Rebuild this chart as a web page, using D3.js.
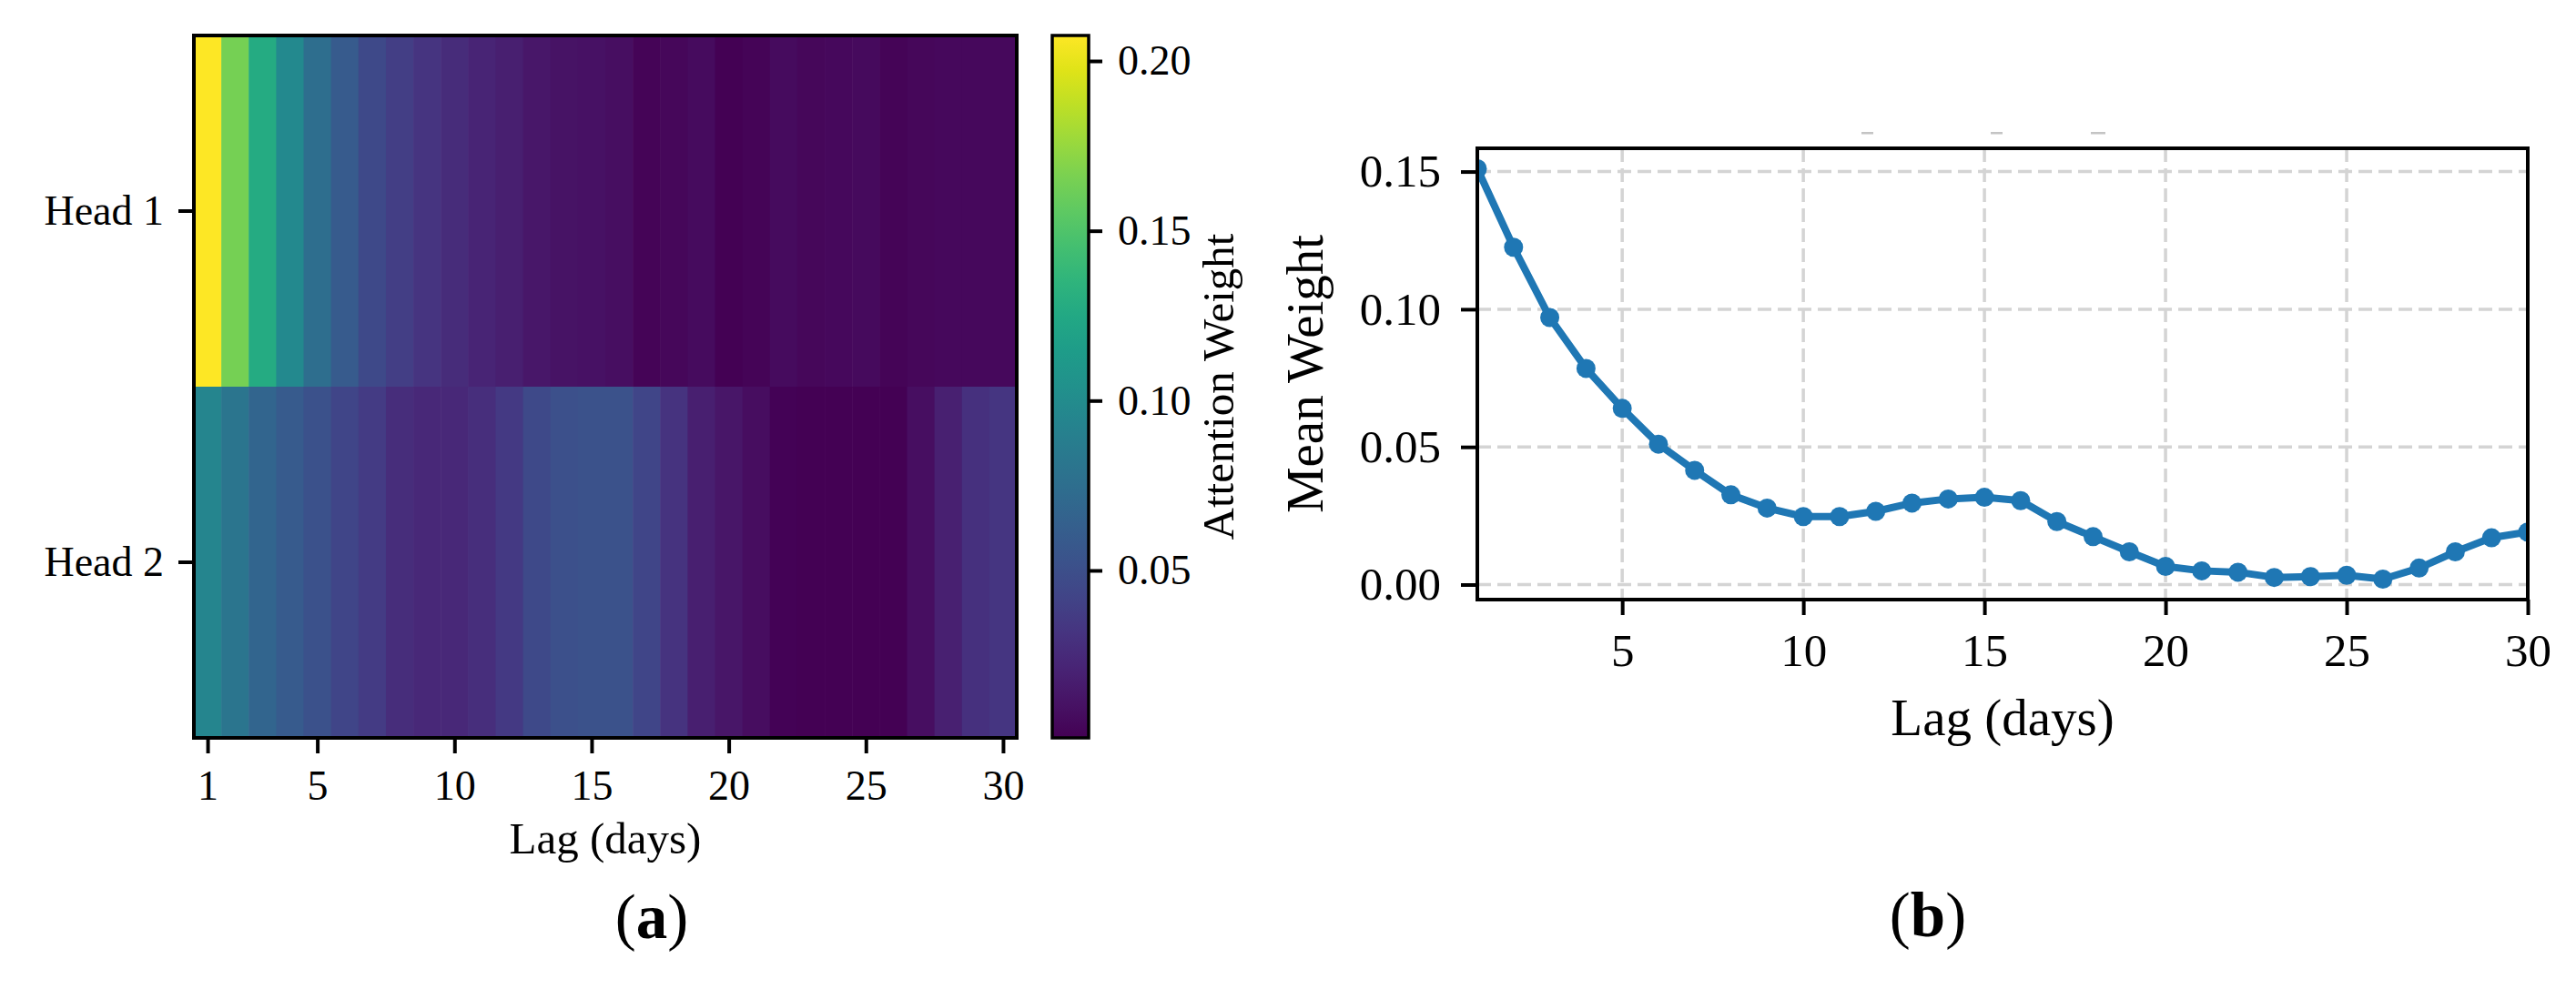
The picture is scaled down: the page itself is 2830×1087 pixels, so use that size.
<!DOCTYPE html>
<html>
<head>
<meta charset="utf-8">
<script src="https://cdn.jsdelivr.net/npm/d3@7"></script>
<style>
  html, body { margin: 0; padding: 0; background: #fff; }
  svg { display: block; font-family: "Liberation Serif", "Times New Roman", serif; }
</style>
</head>
<body>
<svg id="chart" width="2830" height="1087"></svg>
<script>
/* Lag attention: (a) heatmap per head, (b) mean weight per lag */

const LAGS = d3.range(1, 31);
const HEADS = ['Head 1', 'Head 2'];

const HEAD1 = [0.2075, 0.164, 0.127, 0.098, 0.075, 0.059, 0.046, 0.038, 0.032, 0.026,
  0.021, 0.018, 0.013, 0.011, 0.010, 0.008, 0.003, 0.004, 0.007, 0.001,
  0.003, 0.007, 0.004, 0.005, 0.006, 0.003, 0.004, 0.005, 0.005, 0.005];
const HEAD2 = [0.095, 0.081, 0.067, 0.059, 0.052, 0.043, 0.037, 0.027, 0.024, 0.024,
  0.028, 0.035, 0.046, 0.051, 0.053, 0.053, 0.043, 0.031, 0.018, 0.0125,
  0.0075, 0.0022, 0.0014, 0.0012, 0.0011, 0.0010, 0.0082, 0.019, 0.029, 0.033];

const MEAN_WEIGHT = [0.151, 0.1225, 0.097, 0.0785, 0.064, 0.051, 0.0415, 0.0326, 0.0278, 0.0247,
  0.0247, 0.0266, 0.0296, 0.0311, 0.0317, 0.0305, 0.0229, 0.0174, 0.0119, 0.0066,
  0.0050, 0.0045, 0.0026, 0.0029, 0.0034, 0.0020, 0.0060, 0.0119, 0.0170, 0.0191];

const HEAT_XTICKS = [1, 5, 10, 15, 20, 25, 30];
const CBAR_TICKS = [0.05, 0.10, 0.15, 0.20];
const LINE_XTICKS = [5, 10, 15, 20, 25, 30];
const LINE_YTICKS = [0.00, 0.05, 0.10, 0.15];

const svg = d3.select('#chart');

// ============================================================
// (a) heatmap
// ============================================================

function drawHeatmap() {
  const box = { left: 213, right: 1117, top: 39, bottom: 811 };
  const x = d3.scaleLinear().domain([0.5, 30.5]).range([box.left, box.right]);
  const y = d3.scaleBand().domain(HEADS).range([box.top, box.bottom]);
  const vmin = d3.min(HEAD1.concat(HEAD2)) - 0.0003;
  const vmax = d3.max(HEAD1.concat(HEAD2));
  const color = d3.scaleSequential(d3.interpolateViridis).domain([vmin, vmax]);

  const cells = [];
  [HEAD1, HEAD2].forEach((row, i) => {
    row.forEach((v, j) => cells.push({ head: HEADS[i], lag: LAGS[j], v }));
  });

  const g = svg.append('g');
  g.selectAll('rect.cell')
    .data(cells)
    .join('rect')
    .attr('class', 'cell')
    .attr('x', d => x(d.lag - 0.5))
    .attr('y', d => y(d.head))
    .attr('width', x(1.5) - x(0.5) + 0.6)
    .attr('height', y.bandwidth() + 0.6)
    .attr('fill', d => color(d.v));

  g.append('rect')
    .attr('x', box.left).attr('y', box.top)
    .attr('width', box.right - box.left).attr('height', box.bottom - box.top)
    .attr('fill', 'none').attr('stroke', '#000').attr('stroke-width', 4);

  // x axis
  const xa = g.append('g')
    .attr('transform', `translate(0,${box.bottom})`)
    .call(d3.axisBottom(x).tickValues(HEAT_XTICKS).tickSize(17).tickPadding(18).tickFormat(d3.format('d')));
  styleAxis(xa, 46);

  // y axis
  const ya = g.append('g')
    .attr('transform', `translate(${box.left},0)`)
    .call(d3.axisLeft(y).tickSize(17).tickPadding(16));
  styleAxis(ya, 46);

  g.append('text')
    .attr('x', (box.left + box.right) / 2).attr('y', 938)
    .attr('text-anchor', 'middle').attr('font-size', 49)
    .text('Lag (days)');

  // colorbar
  const cb = { left: 1156, right: 1196, top: 39, bottom: 811 };
  const cy = d3.scaleLinear().domain([vmin, vmax]).range([cb.bottom, cb.top]);
  const grad = svg.append('defs').append('linearGradient')
    .attr('id', 'viridis-grad')
    .attr('x1', 0).attr('y1', 1).attr('x2', 0).attr('y2', 0);
  grad.selectAll('stop')
    .data(d3.range(0, 1.0001, 0.05))
    .join('stop')
    .attr('offset', d => d)
    .attr('stop-color', d => d3.interpolateViridis(d));

  g.append('rect')
    .attr('x', cb.left).attr('y', cb.top)
    .attr('width', cb.right - cb.left).attr('height', cb.bottom - cb.top)
    .attr('fill', 'url(#viridis-grad)')
    .attr('stroke', '#000').attr('stroke-width', 3.5);

  const ca = g.append('g')
    .attr('transform', `translate(${cb.right},0)`)
    .call(d3.axisRight(cy).tickValues(CBAR_TICKS).tickSize(15).tickPadding(17).tickFormat(d3.format('.2f')));
  styleAxis(ca, 46);

  g.append('text')
    .attr('transform', `translate(1355,${(cb.top + cb.bottom) / 2}) rotate(-90)`)
    .attr('text-anchor', 'middle').attr('font-size', 49)
    .text('Attention Weight');

  g.append('text')
    .attr('x', 716).attr('y', 1031)
    .attr('text-anchor', 'middle').attr('font-size', 69)
    .html('(<tspan font-weight="bold">a</tspan>)');
}

// ============================================================
// (b) mean weight line
// ============================================================

function drawLine() {
  const box = { left: 1623, right: 2777, top: 163, bottom: 659 };
  const x = d3.scaleLinear().domain([1, 30]).range([box.left, box.right]);
  const lo = d3.min(MEAN_WEIGHT), hi = d3.max(MEAN_WEIGHT);
  const pad = (hi - lo) * 0.05;
  const y = d3.scaleLinear().domain([lo - pad, hi + pad]).range([box.bottom, box.top]);

  const g = svg.append('g');

  svg.select('defs').append('clipPath').attr('id', 'plot-clip')
    .append('rect')
    .attr('x', box.left).attr('y', box.top)
    .attr('width', box.right - box.left).attr('height', box.bottom - box.top);

  // grid
  g.append('g').selectAll('line')
    .data(LINE_XTICKS)
    .join('line')
    .attr('x1', d => x(d)).attr('x2', d => x(d))
    .attr('y1', box.top).attr('y2', box.bottom)
    .attr('stroke', '#d4d4d4').attr('stroke-width', 3.5).attr('stroke-dasharray', '15,7');
  g.append('g').selectAll('line')
    .data(LINE_YTICKS)
    .join('line')
    .attr('x1', box.left).attr('x2', box.right)
    .attr('y1', d => y(d)).attr('y2', d => y(d))
    .attr('stroke', '#d4d4d4').attr('stroke-width', 3.5).attr('stroke-dasharray', '15,7');

  const pts = LAGS.map((lag, i) => ({ lag, v: MEAN_WEIGHT[i] }));
  const plot = g.append('g').attr('clip-path', 'url(#plot-clip)');
  plot.append('path')
    .datum(pts)
    .attr('fill', 'none').attr('stroke', '#1f77b4').attr('stroke-width', 8)
    .attr('stroke-linejoin', 'round')
    .attr('d', d3.line().x(d => x(d.lag)).y(d => y(d.v)));
  plot.selectAll('circle')
    .data(pts)
    .join('circle')
    .attr('cx', d => x(d.lag)).attr('cy', d => y(d.v))
    .attr('r', 10.5).attr('fill', '#1f77b4');

  g.append('rect')
    .attr('x', box.left).attr('y', box.top)
    .attr('width', box.right - box.left).attr('height', box.bottom - box.top)
    .attr('fill', 'none').attr('stroke', '#000').attr('stroke-width', 4);

  const xa = g.append('g')
    .attr('transform', `translate(0,${box.bottom})`)
    .call(d3.axisBottom(x).tickValues(LINE_XTICKS).tickSize(17).tickPadding(20).tickFormat(d3.format('d')));
  styleAxis(xa, 51);

  const ya = g.append('g')
    .attr('transform', `translate(${box.left},0)`)
    .call(d3.axisLeft(y).tickValues(LINE_YTICKS).tickSize(18).tickPadding(22).tickFormat(d3.format('.2f')));
  styleAxis(ya, 51);

  g.append('text')
    .attr('x', (box.left + box.right) / 2).attr('y', 808)
    .attr('text-anchor', 'middle').attr('font-size', 57)
    .text('Lag (days)');

  g.append('text')
    .attr('transform', `translate(1453,${(box.top + box.bottom) / 2}) rotate(-90)`)
    .attr('text-anchor', 'middle').attr('font-size', 57)
    .text('Mean Weight');

  // faint remnants of a hidden title above the axes
  g.append('g').selectAll('rect')
    .data([[2045, 13], [2187, 13], [2297, 16]])
    .join('rect')
    .attr('x', d => d[0]).attr('y', 145).attr('width', d => d[1]).attr('height', 2.5)
    .attr('fill', '#c4c4c4');

  g.append('text')
    .attr('x', 2118).attr('y', 1029)
    .attr('text-anchor', 'middle').attr('font-size', 69)
    .html('(<tspan font-weight="bold">b</tspan>)');
}

function styleAxis(sel, size) {
  sel.select('.domain').remove();
  sel.selectAll('.tick line').attr('stroke', '#000').attr('stroke-width', 4);
  sel.selectAll('.tick text')
    .attr('fill', '#000')
    .attr('font-size', size)
    .attr('font-family', '"Liberation Serif", "Times New Roman", serif');
}

drawHeatmap();
drawLine();
</script>
</body>
</html>
